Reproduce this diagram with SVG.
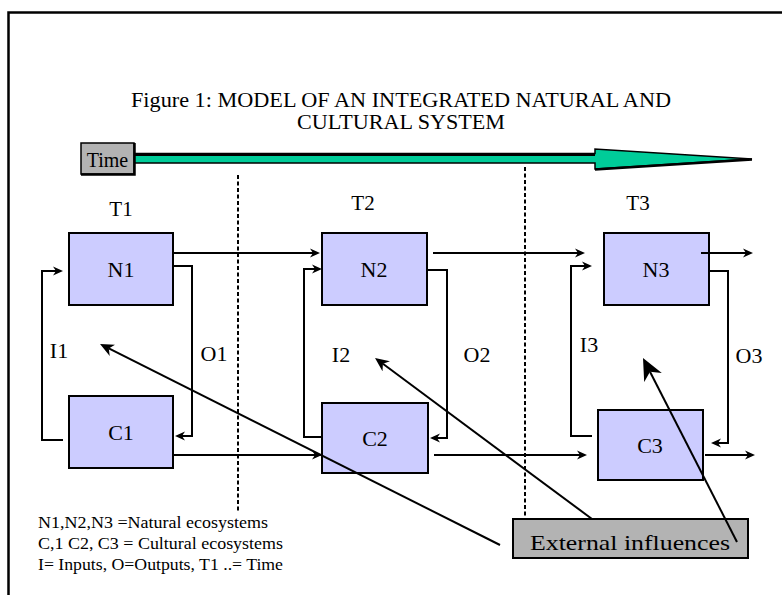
<svg xmlns="http://www.w3.org/2000/svg" width="782" height="595" viewBox="0 0 782 595">
<style>
.t{font-family:"Liberation Serif","Times New Roman",serif;fill:#000}
.box{fill:#ccccff;stroke:#000;stroke-width:2}
.c{fill:none;stroke:#000;stroke-width:2}
.d{stroke:#000;stroke-width:2;stroke-dasharray:4 2.5}
</style>
<defs>
<marker id="a" viewBox="0 0 10 10" refX="3" refY="5" markerWidth="10" markerHeight="10" markerUnits="userSpaceOnUse" orient="auto"><path d="M0,0.5 L10,5 L0,9.5 L3,5 Z"/></marker>
<marker id="m" viewBox="0 0 10 10" refX="3" refY="5" markerWidth="14" markerHeight="14" markerUnits="userSpaceOnUse" orient="auto"><path d="M0,0.5 L10,5 L0,9.5 L3,5 Z"/></marker>
<marker id="b" viewBox="0 0 10 10" refX="3" refY="5" markerWidth="22" markerHeight="22" markerUnits="userSpaceOnUse" orient="auto"><path d="M0,0.5 L10,5 L0,9.5 L3,5 Z"/></marker>
</defs>
<rect x="0" y="0" width="782" height="595" fill="#fff"/>
<rect x="8.5" y="12.5" width="800" height="600" fill="none" stroke="#000" stroke-width="2.5"/>
<g id="title">
<text class="t" x="401" y="107" font-size="21" text-anchor="middle" textLength="540" lengthAdjust="spacingAndGlyphs">Figure 1:  MODEL OF AN INTEGRATED NATURAL AND</text>
<text class="t" x="401" y="129" font-size="21" text-anchor="middle" textLength="208" lengthAdjust="spacingAndGlyphs">CULTURAL SYSTEM</text>
</g>
<g id="time-arrow">
<path d="M134,153.5 H595 V149 L752,159 L595,169 V163 H134 Z" fill="#00cc99" stroke="#000" stroke-width="1.5"/>
<path d="M134,154.5 H595" stroke="#000" stroke-width="3"/>
<path d="M595,169.5 L752,159.5" stroke="#000" stroke-width="2.5"/>
</g>
<g id="time">
<rect x="81" y="143" width="53" height="31" fill="#b3b3b3" stroke="#000" stroke-width="1.5"/>
<path d="M81,174.5 H134.5 V143" fill="none" stroke="#000" stroke-width="2.5"/>
<text class="t" x="107.5" y="167" font-size="20" text-anchor="middle">Time</text>
</g>
<g id="dividers">
<line class="d" x1="238" y1="175" x2="238" y2="511"/>
<line class="d" x1="525" y1="167" x2="525" y2="519"/>
</g>
<g id="period-labels">
<text class="t" x="121" y="216" font-size="21" text-anchor="middle">T1</text>
<text class="t" x="363" y="210" font-size="21" text-anchor="middle">T2</text>
<text class="t" x="638" y="210" font-size="21" text-anchor="middle">T3</text>
</g>
<g id="N1"><rect class="box" x="69" y="233" width="104" height="72"/><text class="t" x="121" y="277" font-size="22" text-anchor="middle">N1</text></g>
<g id="C1"><rect class="box" x="69" y="396" width="104" height="72"/><text class="t" x="121" y="440" font-size="22" text-anchor="middle">C1</text></g>
<g id="N2"><rect class="box" x="322" y="233" width="105" height="72"/><text class="t" x="374" y="277" font-size="22" text-anchor="middle">N2</text></g>
<g id="C2"><rect class="box" x="322" y="403" width="106" height="70"/><text class="t" x="375" y="446" font-size="22" text-anchor="middle">C2</text></g>
<g id="N3"><rect class="box" x="604" y="233" width="105" height="72"/><text class="t" x="656" y="277" font-size="22" text-anchor="middle">N3</text></g>
<g id="C3"><rect class="box" x="598" y="410" width="105" height="70"/><text class="t" x="650" y="453" font-size="22" text-anchor="middle">C3</text></g>
<g id="flow-labels">
<text class="t" x="59" y="358" font-size="22" text-anchor="middle">I1</text>
<text class="t" x="214" y="361" font-size="22" text-anchor="middle">O1</text>
<text class="t" x="341" y="362" font-size="22" text-anchor="middle">I2</text>
<text class="t" x="477" y="362" font-size="22" text-anchor="middle">O2</text>
<text class="t" x="589" y="352" font-size="22" text-anchor="middle">I3</text>
<text class="t" x="749" y="363" font-size="22" text-anchor="middle">O3</text>
</g>
<g id="external">
<rect x="513" y="519" width="235" height="39" fill="#b3b3b3" stroke="#000" stroke-width="2"/>
<text class="t" x="630" y="550" font-size="22" text-anchor="middle" textLength="200" lengthAdjust="spacingAndGlyphs">External influences</text>
</g>
<g id="connectors">
<path class="c" d="M173,253 H313" marker-end="url(#a)"/>
<path class="c" d="M173,266 H192 V436 H182" marker-end="url(#a)"/>
<path class="c" d="M63,440 H42 V271 H56" marker-end="url(#a)"/>
<path class="c" d="M173,455 H315" marker-end="url(#a)"/>
<path class="c" d="M433,253 H578" marker-end="url(#a)"/>
<path class="c" d="M428,270 H447 V438 H437" marker-end="url(#a)"/>
<path class="c" d="M322,437 H304 V269 H315" marker-end="url(#a)"/>
<path class="c" d="M434,455 H580" marker-end="url(#a)"/>
<path class="c" d="M701,253 H746" marker-end="url(#a)"/>
<path class="c" d="M709,271 H728 V443 H718" marker-end="url(#a)"/>
<path class="c" d="M592,436 H571 V266 H585" marker-end="url(#a)"/>
<path class="c" d="M705,455 H748" marker-end="url(#a)"/>
<path class="c" stroke-width="3" d="M500,545 L108.8,348.4" marker-end="url(#m)"/>
<path class="c" stroke-width="3" d="M592,519 L382.9,363.8" marker-end="url(#m)"/>
<path class="c" stroke-width="6" d="M737,542 L650,371.7" marker-end="url(#b)"/>
</g>
<g id="legend">
<text class="t" x="38" y="528" font-size="16" textLength="230" lengthAdjust="spacingAndGlyphs">N1,N2,N3 =Natural ecosystems</text>
<text class="t" x="38" y="549" font-size="16" textLength="245" lengthAdjust="spacingAndGlyphs">C,1 C2, C3  = Cultural ecosystems</text>
<text class="t" x="38" y="570" font-size="16" textLength="245" lengthAdjust="spacingAndGlyphs">I= Inputs,  O=Outputs, T1 ..= Time</text>
</g>
</svg>
